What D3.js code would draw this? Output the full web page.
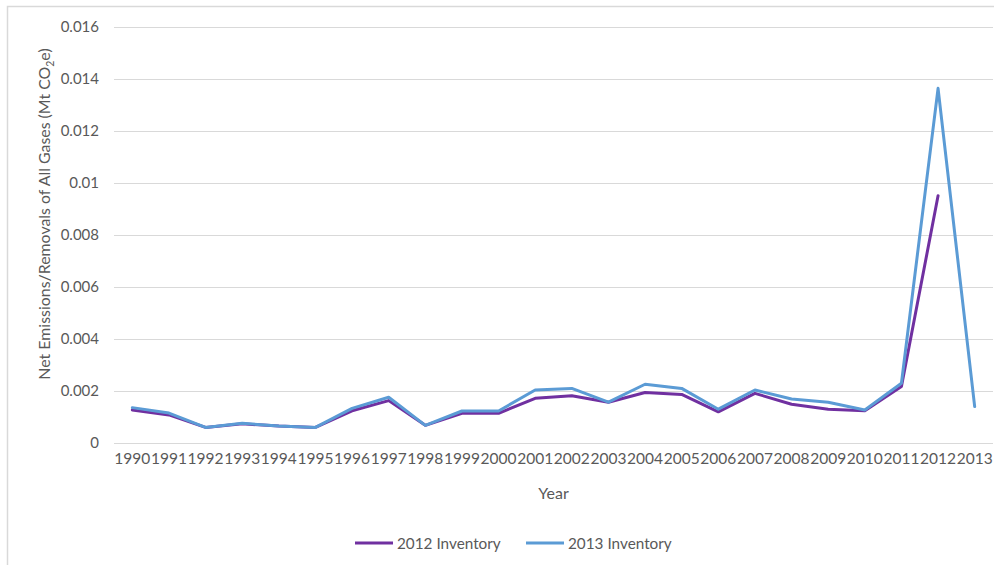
<!DOCTYPE html>
<html><head><meta charset="utf-8">
<script src="https://cdn.jsdelivr.net/npm/d3@7"></script>
<style>body{margin:0;background:#fff}svg{display:block}text{font-family:Lato,"Liberation Sans",sans-serif;fill:#595959}</style>
</head><body>
<script>
const years = ["1990","1991","1992","1993","1994","1995","1996","1997","1998","1999","2000","2001","2002","2003","2004","2005","2006","2007","2008","2009","2010","2011","2012","2013"];
const inv2012 = [0.00127,0.00108,0.0006,0.00074,0.00065,0.0006,0.00124,0.00163,0.00068,0.00114,0.00114,0.00172,0.00182,0.00157,0.00194,0.00187,0.0012,0.00191,0.00149,0.0013,0.00124,0.00217,0.00951,null];
const inv2013 = [0.00136,0.00115,0.0006,0.00076,0.00065,0.0006,0.00133,0.00176,0.00068,0.00123,0.00123,0.00204,0.0021,0.00157,0.00226,0.0021,0.0013,0.00204,0.00169,0.00157,0.00127,0.0023,0.01364,0.0014];
const yTicks = [0,0.002,0.004,0.006,0.008,0.01,0.012,0.014,0.016];
const yTickLabels = ["0","0.002","0.004","0.006","0.008","0.01","0.012","0.014","0.016"];
const seriesNames = ["2012 Inventory","2013 Inventory"];
const seriesColors = ["#7030A0","#5B9BD5"];

const W=994,H=565;
const svg=d3.select("body").append("svg").attr("width",W).attr("height",H);
// outer frame
svg.append("path").attr("d",`M7.5,${H} V6.5 H${W}`).attr("fill","none").attr("stroke","#d9d9d9").attr("stroke-width",1.5);

const L=114,R=993,T=27,B=443;
const x=d3.scaleBand().domain(years).range([L,R]);
const y=d3.scaleLinear().domain([0,0.016]).range([B,T]);

// gridlines
svg.append("g").selectAll("line").data(yTicks).join("line")
  .attr("x1",L).attr("x2",R).attr("y1",d=>Math.round(y(d))+0.5).attr("y2",d=>Math.round(y(d))+0.5)
  .attr("stroke","#d9d9d9").attr("stroke-width",1);

// y axis labels
const yAxis=d3.axisLeft(y).tickValues(yTicks).tickFormat((d,i)=>yTickLabels[i]).tickSize(0).tickPadding(15);
const gy=svg.append("g").attr("transform",`translate(${L},0)`).call(yAxis);
gy.select(".domain").remove();
gy.selectAll("text").attr("font-size","15px").style("font-family","Lato,'Liberation Sans',sans-serif").attr("fill","#595959");

// x axis labels
const xAxis=d3.axisBottom(x).tickSize(0).tickPadding(10);
const gx=svg.append("g").attr("transform",`translate(0,${B})`).call(xAxis);
gx.select(".domain").remove();
gx.selectAll("text").attr("font-size","15.5px").style("font-family","Lato,'Liberation Sans',sans-serif").attr("fill","#595959");

// lines
const cx=d=>x(d)+x.bandwidth()/2;
[inv2012,inv2013].forEach((vals,si)=>{
  const line=d3.line().defined(d=>d[1]!=null).x(d=>cx(d[0])).y(d=>y(d[1]));
  svg.append("path").datum(years.map((yr,i)=>[yr,vals[i]]))
    .attr("d",line).attr("fill","none").attr("stroke",seriesColors[si])
    .attr("stroke-width",3).attr("stroke-linejoin","round").attr("stroke-linecap","round");
});

// axis titles
const yt=svg.append("text").attr("transform","translate(50,214) rotate(-90)").attr("text-anchor","middle").attr("font-size","15.9px");
yt.append("tspan").text("Net Emissions/Removals of All Gases (Mt CO");
yt.append("tspan").text("2").attr("font-size","10.5px").attr("dy",4);
yt.append("tspan").text("e)").attr("dy",-4);

svg.append("text").attr("x",(L+R)/2).attr("y",499).attr("text-anchor","middle").attr("font-size","16px").text("Year");

// legend
const legX=[355,526];
seriesNames.forEach((n,i)=>{
  svg.append("line").attr("x1",legX[i]).attr("x2",legX[i]+38).attr("y1",543).attr("y2",543)
    .attr("stroke",seriesColors[i]).attr("stroke-width",3);
  svg.append("text").attr("x",legX[i]+42).attr("y",548.5).attr("font-size","15.3px").text(n);
});
</script>
</body></html>
